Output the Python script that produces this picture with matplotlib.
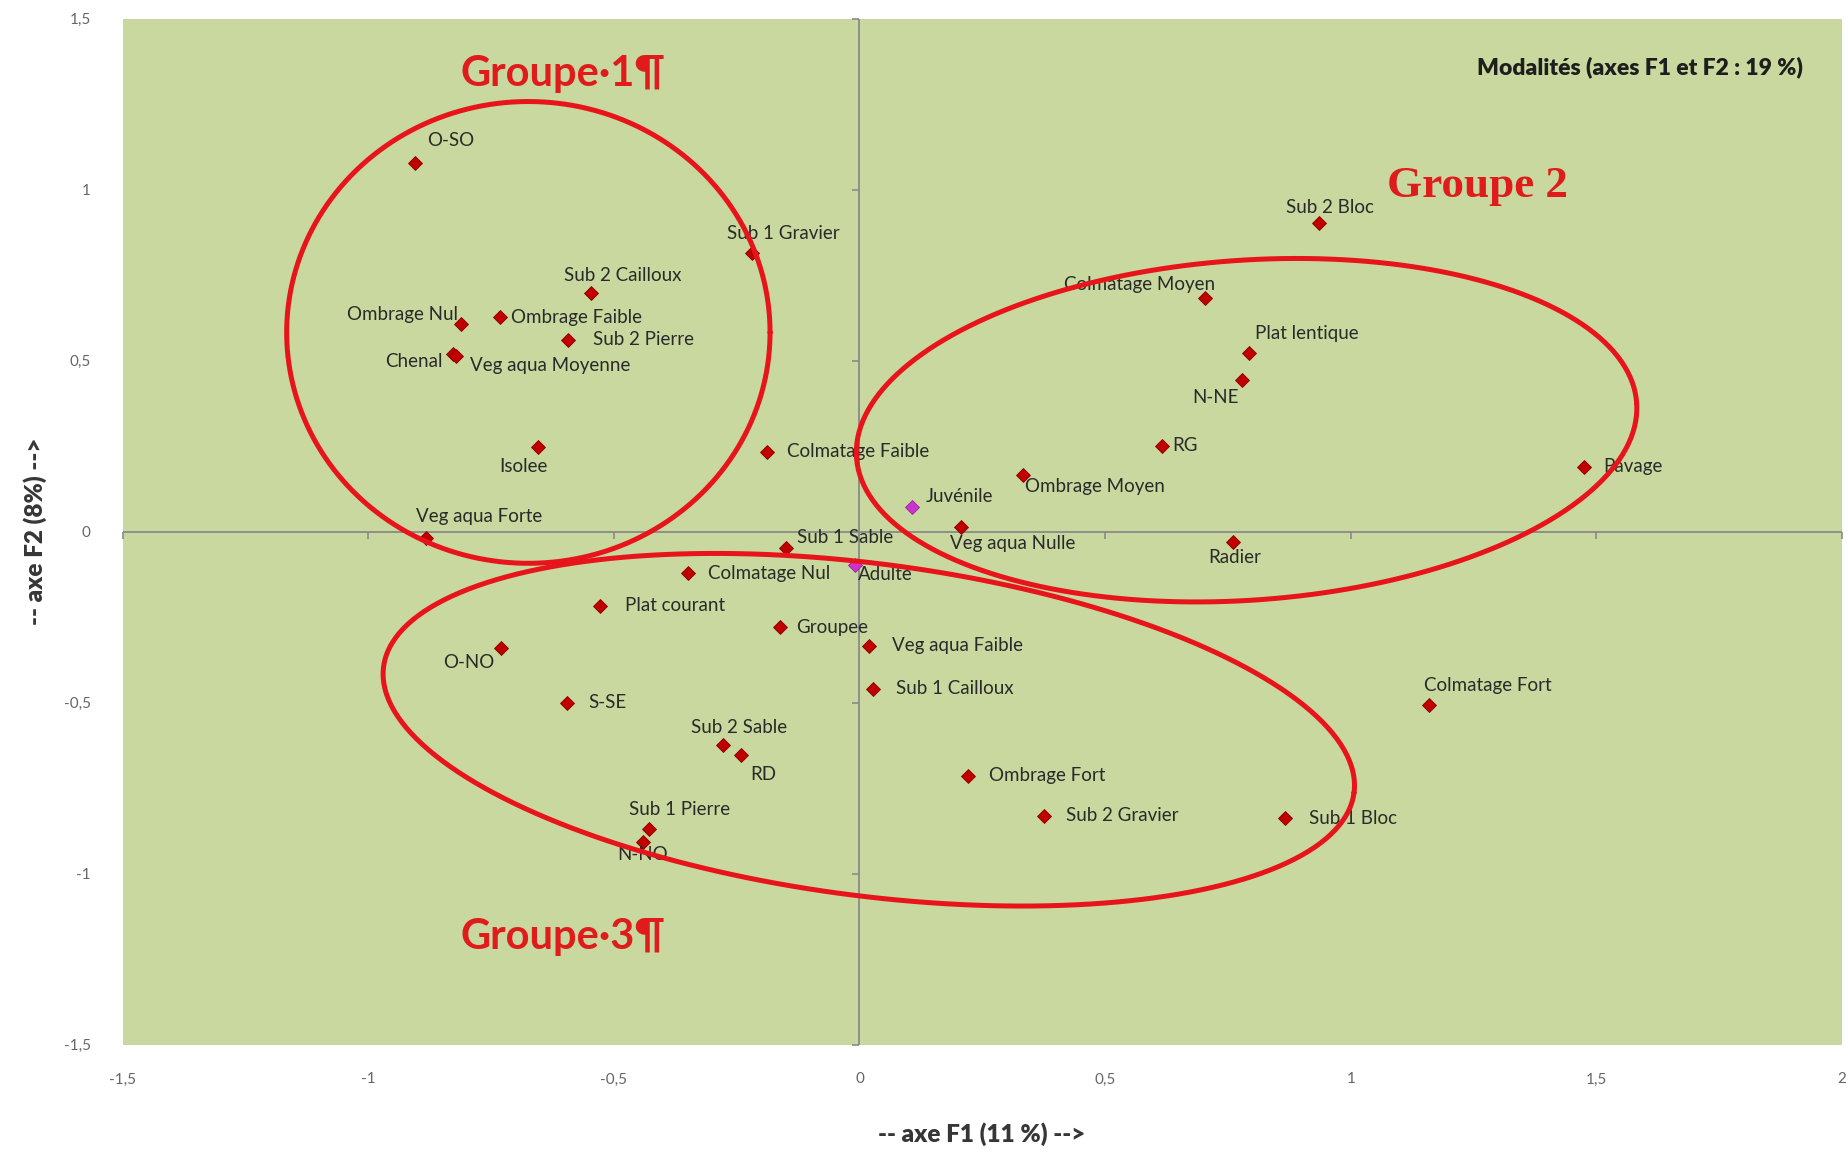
import numpy as np
import matplotlib
matplotlib.use("Agg")
import matplotlib.pyplot as plt

plt.rcParams["font.family"] = ["Lato", "DejaVu Sans"]

# coordinates of the modalities on the first factorial plane
mod_names = ["O-SO", "Sub 1 Gravier", "Sub 2 Cailloux", "Ombrage Nul", "Ombrage Faible",
             "Sub 2 Pierre", "Chenal", "Veg aqua Moyenne", "Isolee", "Veg aqua Forte",
             "Colmatage Faible", "Veg aqua Nulle", "Sub 1 Sable", "Colmatage Nul",
             "Plat courant", "Groupee", "Veg aqua Faible", "O-NO", "Sub 1 Cailloux", "S-SE",
             "Sub 2 Sable", "RD", "Ombrage Fort", "Sub 2 Gravier", "Sub 1 Bloc",
             "Sub 1 Pierre", "N-NO", "Colmatage Fort", "Pavage", "Radier", "RG",
             "Ombrage Moyen", "N-NE", "Plat lentique", "Colmatage Moyen", "Sub 2 Bloc"]
mod_f1 = [-0.905, -0.218, -0.547, -0.811, -0.732, -0.593, -0.828, -0.822, -0.655, -0.883,
          -0.189, 0.207, -0.149, -0.350, -0.528, -0.161, 0.019, -0.729, 0.027, -0.595,
          -0.278, -0.242, 0.221, 0.375, 0.867, -0.429, -0.441, 1.160, 1.474, 0.761, 0.615,
          0.332, 0.778, 0.792, 0.704, 0.936]
mod_f2 = [1.079, 0.814, 0.697, 0.607, 0.628, 0.562, 0.519, 0.515, 0.248, -0.017,
          0.234, 0.014, -0.048, -0.121, -0.217, -0.279, -0.334, -0.341, -0.459, -0.500,
          -0.624, -0.652, -0.714, -0.831, -0.838, -0.869, -0.907, -0.507, 0.190, -0.031,
          0.252, 0.166, 0.445, 0.524, 0.683, 0.903]

# supplementary individuals (life stage)
stage_names = ["Juvénile", "Adulte"]
stage_f1 = [0.106, -0.009]
stage_f2 = [0.072, -0.097]

x_ticks = [-1.5, -1, -0.5, 0, 0.5, 1, 1.5, 2]
x_labels = ["-1,5", "-1", "-0,5", "0", "0,5", "1", "1,5", "2"]
y_ticks = [-1.5, -1, -0.5, 0, 0.5, 1, 1.5]
y_labels = ["-1,5", "-1", "-0,5", "0", "0,5", "1", "1,5"]

# label placement: (ha, dx, dy) in points
label_pos = {
    "O-SO": ("left", 9, 16), "Sub 1 Gravier": ("left", -18, 14),
    "Sub 2 Cailloux": ("left", -19, 13), "Ombrage Nul": ("right", -2, 7),
    "Ombrage Faible": ("left", 8, 0), "Sub 2 Pierre": ("left", 18, 0),
    "Chenal": ("right", -7, -5), "Veg aqua Moyenne": ("left", 10, -7),
    "Isolee": ("center", -10, -14), "Veg aqua Forte": ("left", -7, 15),
    "Colmatage Faible": ("left", 15, 0), "Juvénile": ("left", 10, 8),
    "Veg aqua Nulle": ("left", -8, -12), "Sub 1 Sable": ("left", 8, 8),
    "Adulte": ("left", 2, -7), "Colmatage Nul": ("left", 15, 0),
    "Plat courant": ("left", 18, 0), "Groupee": ("left", 11, 0),
    "Veg aqua Faible": ("left", 17, 0), "O-NO": ("right", -5, -10),
    "Sub 1 Cailloux": ("left", 17, 0), "S-SE": ("left", 15, 0),
    "Sub 2 Sable": ("left", -23, 13), "RD": ("left", 7, -14),
    "Ombrage Fort": ("left", 15, 0), "Sub 2 Gravier": ("left", 16, 0),
    "Sub 1 Bloc": ("left", 17, 0), "Sub 1 Pierre": ("left", -14, 14),
    "N-NO": ("center", 0, -9), "Colmatage Fort": ("left", -4, 14),
    "Pavage": ("left", 14, 0), "Radier": ("center", 1, -11),
    "RG": ("left", 8, 0), "Ombrage Moyen": ("left", 2, -8),
    "N-NE": ("right", -2, -13), "Plat lentique": ("left", 5, 14),
    "Colmatage Moyen": ("right", 7, 10), "Sub 2 Bloc": ("left", -24, 11),
}

# groups drawn as ellipses: centre, semi-axes (in F1 units), tilt in degrees
groups = [
    ("Groupe\u00b71\u00b6", (-0.674, 0.583), 0.492, 0.470, 0.0, (-0.813, 1.338), "sans"),
    ("Groupe 2", (0.788, 0.297), 0.796, 0.346, 4.0, (1.073, 1.010), "serif"),
    ("Groupe\u00b73\u00b6", (0.019, -0.579), 0.996, 0.338, -7.4, (-0.813, -1.186), "sans"),
]

fig = plt.figure(figsize=(18.49, 11.5), dpi=100)
ax = fig.add_axes([0.0663, 0.0916, 0.9299, 0.8920])
ax.set_facecolor("#c8d89e")
ax.set_xlim(-1.5, 2)
ax.set_ylim(-1.5, 1.5)
for s in ax.spines.values():
    s.set_visible(False)

ax.set_xticks(x_ticks)
ax.set_xticklabels(x_labels)
ax.set_yticks(y_ticks)
ax.set_yticklabels(y_labels)
ax.tick_params(axis="both", length=0, labelsize=11, colors="#666666")
ax.tick_params(axis="x", pad=20)
ax.tick_params(axis="y", pad=23)

# axes crossing at zero with small tick marks
ax.axhline(0, color="#8a8a8a", lw=1.3, zorder=1)
ax.axvline(0, color="#8a8a8a", lw=1.3, zorder=1)
ax.plot(x_ticks, np.zeros(len(x_ticks)), ls="none", marker=3, ms=5, mew=1.2,
        color="#8a8a8a", zorder=1, clip_on=False)
ax.plot(np.zeros(len(y_ticks)), y_ticks, ls="none", marker=0, ms=5, mew=1.2,
        color="#8a8a8a", zorder=1, clip_on=False)

ax.plot(mod_f1, mod_f2, ls="none", marker="D", ms=7, color="#c00000",
        mec="#8b0000", mew=0.6, zorder=3)
ax.plot(stage_f1, stage_f2, ls="none", marker="D", ms=7, color="#cc33cc",
        mec="#a020a0", mew=0.6, zorder=3)

for name, x, y in zip(mod_names + stage_names, mod_f1 + stage_f1, mod_f2 + stage_f2):
    ha, dx, dy = label_pos[name]
    ax.annotate(name, (x, y), xytext=(dx, dy), textcoords="offset points",
                ha=ha, va="center", fontsize=13.5, color="#2a2a2a", zorder=4)

# screen aspect: length of one F1 unit expressed in F2 units
bb = ax.get_position()
r = (bb.width * fig.get_figwidth() / 3.5) / (bb.height * fig.get_figheight() / 3.0)

t = np.linspace(0, 2 * np.pi, 400)
for label, (cx, cy), a, b, ang, (lx, ly), fam in groups:
    th = np.radians(ang)
    u, v = a * np.cos(t), b * np.sin(t)
    ex = cx + u * np.cos(th) - v * np.sin(th)
    ey = cy + (u * np.sin(th) + v * np.cos(th)) * r
    ax.plot(ex, ey, color="#e8141b", lw=3.6, zorder=5, solid_capstyle="round")
    if fam == "serif":
        ax.text(lx, ly, label, fontsize=32.5, fontweight="bold", color="#e01b1b",
                family=["Liberation Serif", "DejaVu Serif"], ha="left", va="center", zorder=6)
    else:
        ax.text(lx, ly, label, fontsize=30, fontweight="bold", color="#e01b1b",
                ha="left", va="center", zorder=6)

ax.text(0.977, 0.953, "Modalités (axes F1 et F2 : 19 %)", transform=ax.transAxes,
        ha="right", va="center", fontsize=16.5, fontweight="heavy", color="#1e1e1e")

fig.text(0.531, 0.014, "-- axe F1 (11 %) -->", ha="center", va="center",
         fontsize=17.5, fontweight="heavy", color="#363636")
fig.text(0.019, 0.538, "-- axe F2 (8%) -->", ha="center", va="center", rotation=90,
         fontsize=17.5, fontweight="heavy", color="#363636")

fig.savefig("out.png", dpi=100, facecolor="white")
